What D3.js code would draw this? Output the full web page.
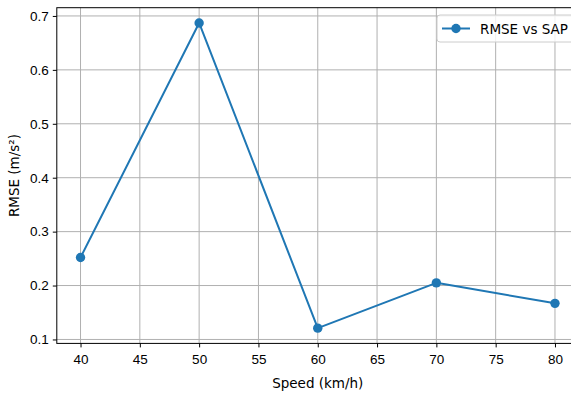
<!DOCTYPE html>
<html>
<head>
<meta charset="utf-8">
<script src="https://cdn.jsdelivr.net/npm/d3@7"></script>
<style>
    body { margin: 0; background: #fff; }
    svg { display: block; font-family: "DejaVu Sans", sans-serif; }
    .grid line { stroke: #b0b0b0; stroke-width: 1; }
    .tick text { font-size: 13.5px; fill: #000; }
</style>
</head>
<body>
<div id="chart"></div>
<script>
(function() {
    'use strict';

    // data
    var speeds = [40, 50, 60, 70, 80];
    var rmseValues = [0.252, 0.687, 0.121, 0.205, 0.167];
    var xTicks = [40, 45, 50, 55, 60, 65, 70, 75, 80];
    var yTicks = [0.1, 0.2, 0.3, 0.4, 0.5, 0.6, 0.7];
    var seriesName = 'RMSE vs SAP';

    var width = 571, height = 394;
    var margin = {top: 7.7, left: 56.8, bottom: 394 - 343.4};
    var plotRight = 578.7; // figure was cropped on the right
    var color = '#1f77b4';
    var fontSize = '13.5px';

    var svg = d3.select('#chart').append('svg')
        .attr('width', width)
        .attr('height', height);

    // matplotlib-style 5% padding on both axes
    var xPad = (d3.max(speeds) - d3.min(speeds)) * 0.05;
    var yPad = (d3.max(rmseValues) - d3.min(rmseValues)) * 0.05;

    var x = d3.scaleLinear()
        .domain([d3.min(speeds) - xPad, d3.max(speeds) + xPad])
        .range([margin.left, plotRight]);
    var y = d3.scaleLinear()
        .domain([d3.min(rmseValues) - yPad, d3.max(rmseValues) + yPad])
        .range([height - margin.bottom, margin.top]);

    // grid
    var grid = svg.append('g').attr('class', 'grid');
    grid.selectAll('line.gx')
        .data(xTicks)
        .enter().append('line')
        .attr('x1', function(d) { return x(d); })
        .attr('x2', function(d) { return x(d); })
        .attr('y1', y.range()[0])
        .attr('y2', y.range()[1]);
    grid.selectAll('line.gy')
        .data(yTicks)
        .enter().append('line')
        .attr('x1', x.range()[0])
        .attr('x2', x.range()[1])
        .attr('y1', function(d) { return y(d); })
        .attr('y2', function(d) { return y(d); });

    // axes
    var xAxis = svg.append('g')
        .attr('transform', 'translate(0,' + y.range()[0] + ')')
        .call(d3.axisBottom(x).tickValues(xTicks).tickSize(4).tickPadding(4).tickFormat(d3.format('d')));
    var yAxis = svg.append('g')
        .attr('transform', 'translate(' + x.range()[0] + ',0)')
        .call(d3.axisLeft(y).tickValues(yTicks).tickSize(4).tickPadding(4).tickFormat(d3.format('.1f')));
    [xAxis, yAxis].forEach(function(a) {
        a.select('.domain').remove();
        a.selectAll('.tick line').attr('stroke', '#000').attr('stroke-width', 1);
    });
    xAxis.selectAll('.tick text').attr('dy', '0.9em');

    // spines
    svg.append('rect')
        .attr('x', x.range()[0])
        .attr('y', y.range()[1])
        .attr('width', x.range()[1] - x.range()[0])
        .attr('height', y.range()[0] - y.range()[1])
        .attr('fill', 'none')
        .attr('stroke', '#000')
        .attr('stroke-width', 1);

    // series
    var points = speeds.map(function(s, i) { return {x: s, y: rmseValues[i]}; });
    var line = d3.line()
        .x(function(d) { return x(d.x); })
        .y(function(d) { return y(d.y); });
    svg.append('path')
        .datum(points)
        .attr('d', line)
        .attr('fill', 'none')
        .attr('stroke', color)
        .attr('stroke-width', 2)
        .attr('stroke-linejoin', 'round');
    svg.selectAll('circle.pt')
        .data(points)
        .enter().append('circle')
        .attr('class', 'pt')
        .attr('cx', function(d) { return x(d.x); })
        .attr('cy', function(d) { return y(d.y); })
        .attr('r', 4.7)
        .attr('fill', color);

    // axis labels
    svg.append('text')
        .attr('x', (x.range()[0] + x.range()[1]) / 2)
        .attr('y', 388)
        .attr('text-anchor', 'middle')
        .style('font-size', fontSize)
        .text('Speed (km/h)');
    svg.append('text')
        .attr('transform', 'translate(19,' + ((y.range()[0] + y.range()[1]) / 2) + ') rotate(-90)')
        .attr('text-anchor', 'middle')
        .style('font-size', fontSize)
        .text('RMSE (m/s²)');

    // legend
    var legend = svg.append('g').attr('transform', 'translate(437,15)');
    legend.append('rect')
        .attr('width', 140)
        .attr('height', 27)
        .attr('rx', 3)
        .attr('fill', 'rgba(255,255,255,0.8)')
        .attr('stroke', '#cccccc');
    legend.append('line')
        .attr('x1', 5).attr('x2', 33)
        .attr('y1', 13.5).attr('y2', 13.5)
        .attr('stroke', color)
        .attr('stroke-width', 2);
    legend.append('circle')
        .attr('cx', 19).attr('cy', 13.5).attr('r', 4.7)
        .attr('fill', color);
    legend.append('text')
        .attr('x', 43).attr('y', 18.5)
        .style('font-size', fontSize)
        .text(seriesName);
})();
</script>
</body>
</html>
